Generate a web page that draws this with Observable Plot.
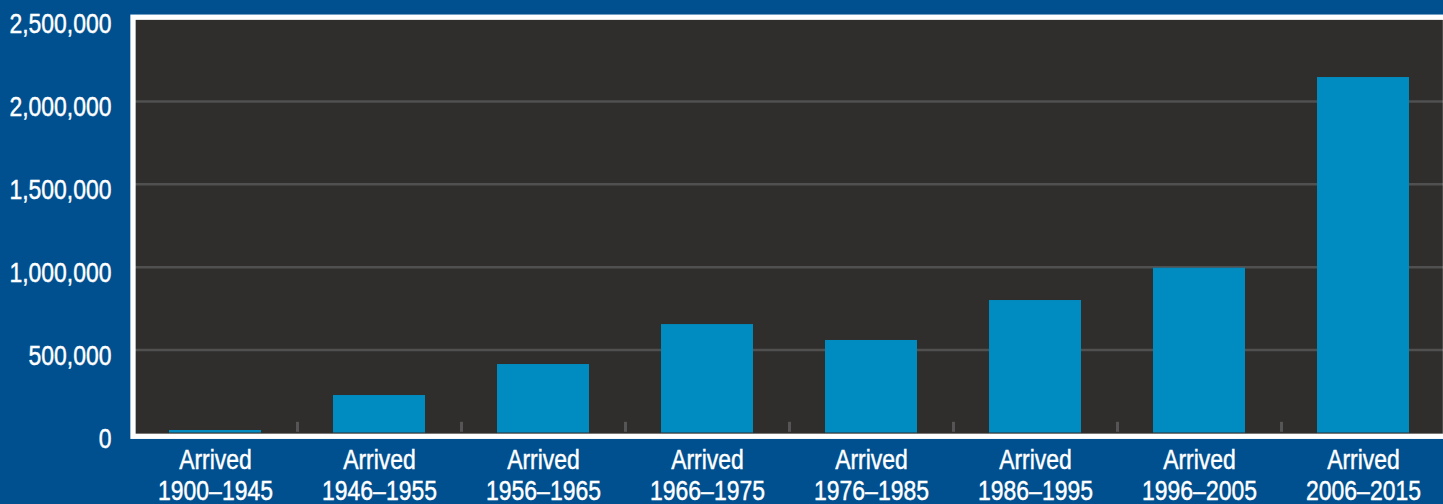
<!DOCTYPE html>
<html>
<head>
<meta charset="utf-8">
<script src="https://cdn.jsdelivr.net/npm/d3@7"></script>
<script src="https://cdn.jsdelivr.net/npm/@observablehq/plot@0.6"></script>
<style>
  html, body { margin: 0; padding: 0; background: #00508f; overflow: hidden; }
  #chart svg { display: block; }
</style>
</head>
<body>
<div id="chart"></div>
<script>
const periods = ["1900–1945", "1946–1955", "1956–1965", "1966–1975", "1976–1985", "1986–1995", "1996–2005", "2006–2015"];
const arrivals = [15000, 226000, 413000, 654000, 558000, 799000, 994000, 2144000];
const yTicks = [0, 500000, 1000000, 1500000, 2000000, 2500000];
const labelPrefix = "Arrived";

const data = periods.map((p, i) => ({period: p, value: arrivals[i]}));

const font = "'Liberation Sans', Arial, sans-serif";

const chart = Plot.plot({
  width: 1443,
  height: 504,
  marginLeft: 132.5,
  marginRight: -2,
  marginTop: 16.7,
  marginBottom: 68.2,
  style: {background: "#00508f", color: "#ffffff", fontFamily: font, fontSize: "27px", overflow: "visible"},
  x: {domain: periods, paddingInner: 0.44, paddingOuter: 0.22, label: null},
  y: {domain: [0, 2500000], insetTop: 1.3, insetBottom: 3.3, label: null},
  marks: [
    Plot.frame({fill: "#302e2c"}),
    Plot.ruleY(yTicks.filter(d => d > 0), {stroke: "#505050", strokeWidth: 2.5}),
    Plot.axisX({ticks: periods.slice(0, -1), text: null, tickSize: -10, dx: 82, dy: -4, stroke: "#555555", strokeWidth: 3}),
    Plot.barY(data, {x: "period", y: "value", fill: "#008bc1"}),
    Plot.frame({stroke: "#ffffff", strokeWidth: 5.3}),
    Plot.axisY({ticks: yTicks, tickSize: 0, tickPadding: 21.5, tickFormat: d3.format(","), fontSize: 27, fill: "#ffffff", dy: 6, label: null}),
    Plot.axisX({tickSize: 0, tickPadding: 10.3, tickFormat: d => labelPrefix + "\n" + d, fontSize: 27, lineHeight: 1.15, fill: "#ffffff", label: null})
  ]
});
// condense the label glyphs horizontally (narrow typeface look) and give them a medium weight
d3.select(chart).selectAll("g[aria-label='y-axis tick label'] text, g[aria-label='x-axis tick label'] text")
  .each(function() {
    const t = this.getAttribute("transform") || "";
    this.setAttribute("transform", t + " scale(0.85,1)");
  })
  .style("stroke", "#ffffff")
  .style("stroke-width", "0.45px");
document.getElementById("chart").appendChild(chart);
</script>
</body>
</html>
